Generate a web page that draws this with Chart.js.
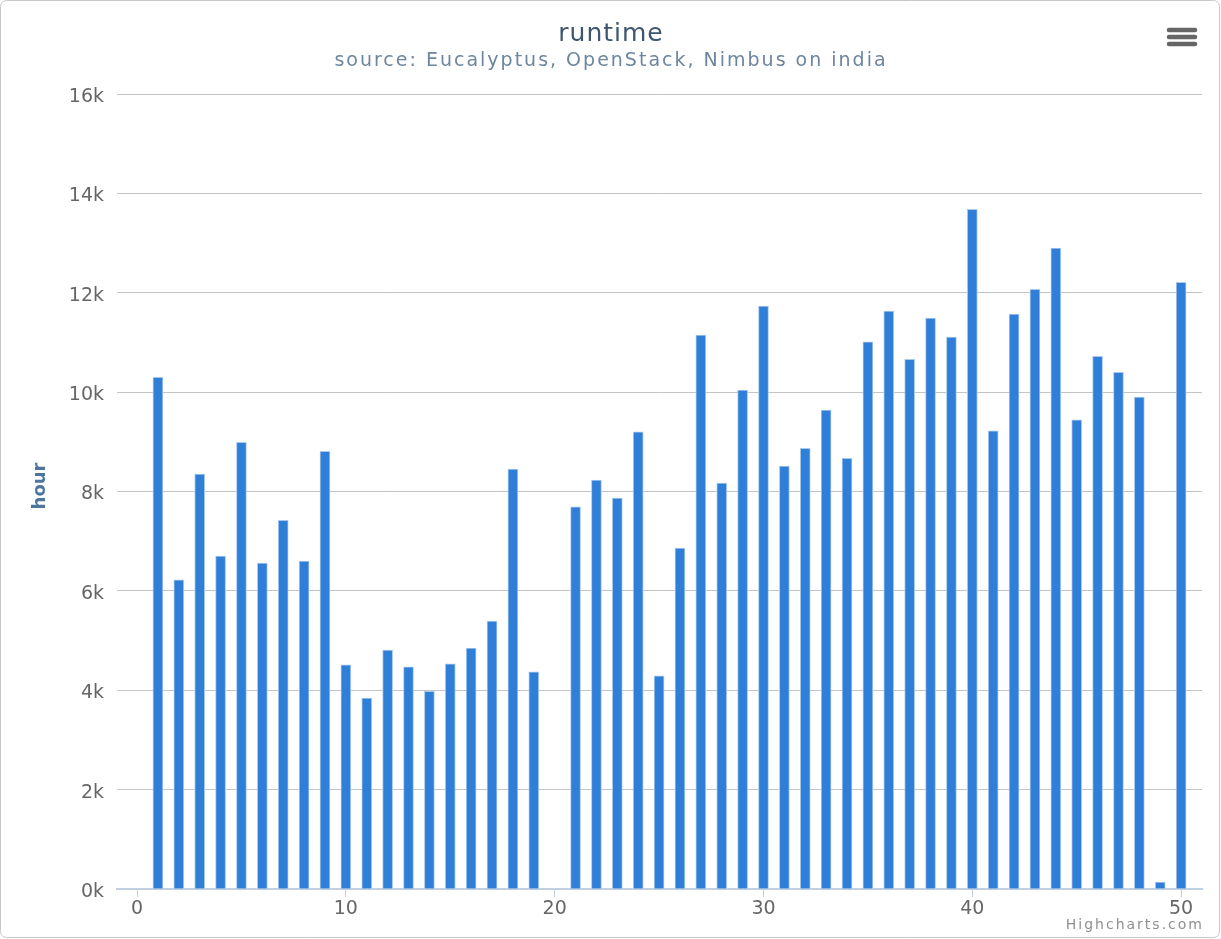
<!DOCTYPE html>
<html>
<head>
<meta charset="utf-8">
<script src="https://cdn.jsdelivr.net/npm/chart.js@4"></script>
<style>
  html, body { margin: 0; padding: 0; background: #fff; }
  #wrap { width: 1221px; height: 939px; position: relative; }
</style>
</head>
<body>
<div id="wrap"><canvas id="runtimeChart"></canvas></div>
<script>
const chartTitle = 'runtime';
const chartSubtitle = 'source: Eucalyptus, OpenStack, Nimbus on india';
const yAxisTitle = 'hour';
const creditText = 'Highcharts.com';

// x positions (day index) and runtime in hours
const days = [];
for (let i = 1; i <= 50; i++) days.push(i);
const hours = [
  10300, 6220, 8350, 6700, 8990, 6560, 7420, 6600, 8810, 4510,
  3840, 4810, 4470, 3980, 4530, 4850, 5390, 8450, 4370, null,
  7690, 8230, 7870, 9200, 4290, 6860, 11150, 8170, 10040, 11730,
  8510, 8870, 9640, 8670, 11010, 11630, 10660, 11490, 11110, 13680,
  9220, 11570, 12070, 12900, 9440, 10720, 10400, 9900, 140, 12210
];
const xTicks = [0, 10, 20, 30, 40, 50];
const yTicks = [0, 2000, 4000, 6000, 8000, 10000, 12000, 14000, 16000];

const FONT = '"DejaVu Sans", Verdana, sans-serif';

const decorPlugin = {
  id: 'decor',
  beforeDraw(chart) {
    const c = chart.ctx;
    c.save();
    c.fillStyle = '#fff';
    c.fillRect(0, 0, chart.width, chart.height);
    c.restore();
  },
  afterDraw(chart) {
    const c = chart.ctx;
    c.save();
    // outer border
    c.strokeStyle = '#c8c8c8';
    c.lineWidth = 1;
    c.beginPath();
    c.roundRect(0.5, 0.5, chart.width - 2, chart.height - 2, 6);
    c.stroke();

    // titles
    c.textAlign = 'center';
    c.textBaseline = 'middle';
    c.fillStyle = '#3E576F';
    c.font = '25px ' + FONT;
    c.letterSpacing = '1px';
    c.fillText(chartTitle, 611, 34);
    c.fillStyle = '#6D869F';
    c.font = '19px ' + FONT;
    c.letterSpacing = '2px';
    c.fillText(chartSubtitle, 611, 61);

    // axis title
    c.save();
    c.letterSpacing = '0px';
    c.translate(40, 486);
    c.rotate(-Math.PI / 2);
    c.fillStyle = '#4D759E';
    c.font = 'bold 18px ' + FONT;
    c.fillText(yAxisTitle, 0, 0);
    c.restore();

    // credits
    c.textAlign = 'right';
    c.fillStyle = '#909090';
    c.font = '14px ' + FONT;
    c.letterSpacing = '2px';
    c.fillText(creditText, 1204, 925);
    c.letterSpacing = '0px';

    // menu icon
    c.strokeStyle = '#666';
    c.lineWidth = 4.5;
    c.lineCap = 'round';
    [30, 37, 44].forEach(y => {
      c.beginPath();
      c.moveTo(1169, y);
      c.lineTo(1195, y);
      c.stroke();
    });
    c.restore();
  }
};

const ctx = document.getElementById('runtimeChart');

new Chart(ctx, {
  type: 'bar',
  data: {
    datasets: [{
      label: 'runtime',
      data: days.map((d, i) => ({ x: d, y: hours[i] })),
      backgroundColor: '#2f7ed8',
      borderColor: '#a9c9ef',
      borderWidth: 1,
      barThickness: 10
    }]
  },
  options: {
    responsive: true,
    maintainAspectRatio: false,
    animation: false,
    layout: { padding: { left: 0, right: 19, top: 94, bottom: 0 } },
    plugins: {
      legend: { display: false },
      tooltip: { enabled: false }
    },
    scales: {
      x: {
        type: 'linear',
        offset: false,
        min: -0.96,
        max: 51,
        afterBuildTicks: scale => { scale.ticks = xTicks.map(v => ({ value: v })); },
        afterFit: scale => { scale.height = 50; },
        grid: {
          offset: false,
          drawOnChartArea: false,
          drawTicks: true,
          tickLength: 8,
          tickColor: '#C0D0E0'
        },
        border: { color: '#C0D0E0', width: 2 },
        ticks: {
          color: '#666',
          font: { family: FONT, size: 19 },
          padding: 1,
          maxRotation: 0
        }
      },
      y: {
        min: 0,
        max: 16000,
        afterBuildTicks: scale => { scale.ticks = yTicks.map(v => ({ value: v })); },
        afterFit: scale => { scale.width = 117; },
        grid: {
          color: '#C4C4C4',
          drawTicks: false
        },
        border: { display: false },
        ticks: {
          color: '#666',
          font: { family: FONT, size: 19 },
          padding: 13,
          labelOffset: 3,
          callback: v => (v / 1000) + 'k'
        }
      }
    }
  },
  plugins: [decorPlugin]
});
</script>
</body>
</html>
